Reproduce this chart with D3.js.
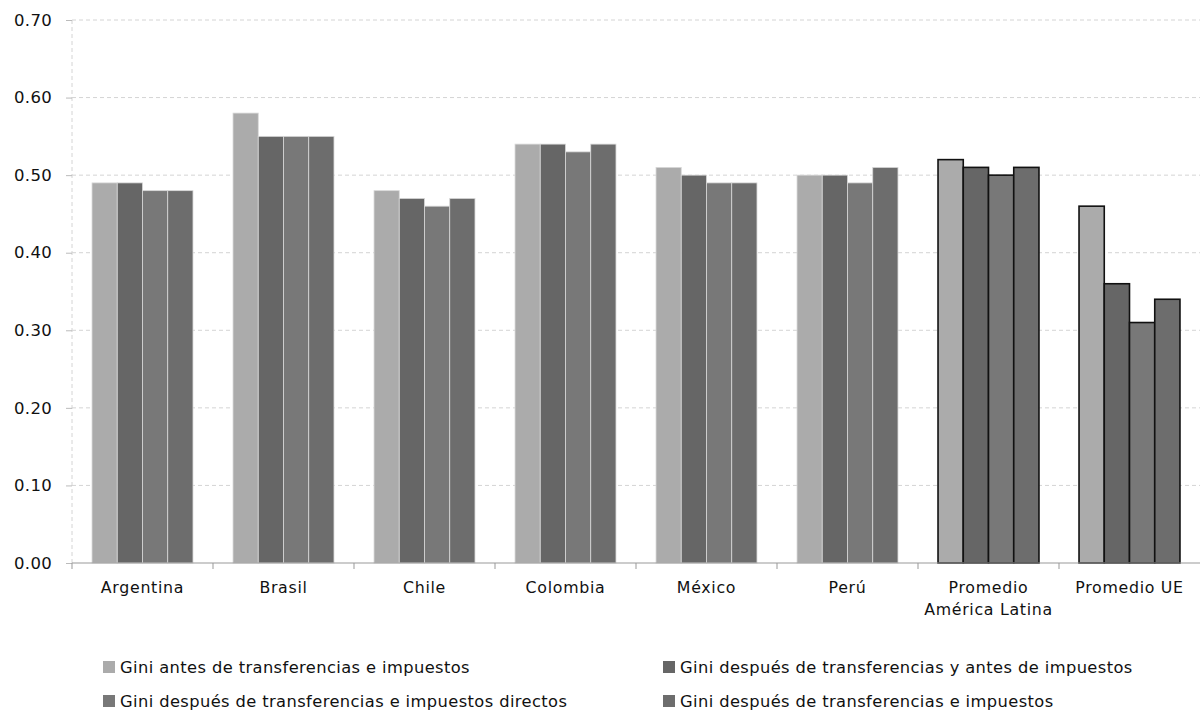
<!DOCTYPE html>
<html><head><meta charset="utf-8">
<script src="https://cdn.jsdelivr.net/npm/d3@7"></script>
<style>body{margin:0;background:#fff}svg{display:block}text{font-family:"DejaVu Sans",sans-serif;fill:#111}</style>
</head><body><svg id="c" width="1200" height="711"></svg>
<script>
const categories = ["Argentina","Brasil","Chile","Colombia","México","Perú","Promedio\nAmérica Latina","Promedio UE"];
const seriesNames = ["Gini antes de transferencias e impuestos","Gini después de transferencias y antes de impuestos","Gini después de transferencias e impuestos directos","Gini después de transferencias e impuestos"];
const s1 = [0.49,0.58,0.48,0.54,0.51,0.50,0.52,0.46];
const s2 = [0.49,0.55,0.47,0.54,0.50,0.50,0.51,0.36];
const s3 = [0.48,0.55,0.46,0.53,0.49,0.49,0.50,0.31];
const s4 = [0.48,0.55,0.47,0.54,0.49,0.51,0.51,0.34];
const yTicks = [0,0.1,0.2,0.3,0.4,0.5,0.6,0.7];
const colors = ["#ababab","#666666","#787878","#6d6d6d"];
const series = [s1,s2,s3,s4];
const highlighted = ["Promedio\nAmérica Latina","Promedio UE"];

const svg = d3.select("#c");
const L=72,R=1200,T=20,B=563;
const x = d3.scaleBand().domain(categories).range([L,R]).paddingInner(0.284).paddingOuter(0.142);
const xs = d3.scaleBand().domain(d3.range(4)).range([0,x.bandwidth()]);
const y = d3.scaleLinear().domain([0,0.7]).range([B,T]);

// grid
svg.append("g").selectAll("line").data(yTicks.filter(d=>d>0)).join("line")
  .attr("x1",L).attr("x2",R).attr("y1",d=>y(d)).attr("y2",d=>y(d))
  .attr("stroke","#d4d4d4").attr("stroke-dasharray","4,3").attr("stroke-width",1);
svg.append("line").attr("x1",L).attr("x2",L).attr("y1",T).attr("y2",B)
  .attr("stroke","#d4d4d4").attr("stroke-dasharray","4,3");

// bars
const g = svg.append("g");
categories.forEach((c,ci)=>{
  const hl = highlighted.includes(c);
  series.forEach((s,si)=>{
    g.append("rect").attr("x",x(c)+xs(si)).attr("width",xs.bandwidth())
      .attr("y",y(s[ci])).attr("height",y(0)-y(s[ci]))
      .attr("fill",colors[si])
      .attr("stroke",hl?"#111":"#d8d8d8").attr("stroke-width",hl?1.6:0.8);
  });
});

// y axis
const ya = svg.append("g").attr("transform",`translate(${L},0)`)
  .call(d3.axisLeft(y).tickValues(yTicks).tickFormat(d3.format(".2f")).tickSize(6).tickPadding(14));
ya.select(".domain").remove();
ya.selectAll("line").attr("stroke","#bbb");
ya.selectAll("text").attr("font-size",16.5).attr("fill","#111").attr("font-family","DejaVu Sans").attr("letter-spacing","0.3");

// x axis
svg.append("line").attr("x1",L).attr("x2",R).attr("y1",B).attr("y2",B).attr("stroke","#999");
const bounds = d3.range(categories.length+1).map(i=>L+i*x.step());
svg.append("g").selectAll("line").data(bounds.slice(0,-1)).join("line")
  .attr("x1",d=>d).attr("x2",d=>d).attr("y1",B).attr("y2",B+6).attr("stroke","#999");
const xl = svg.append("g").selectAll("text").data(categories).join("text")
  .attr("x",d=>x(d)+x.bandwidth()/2).attr("y",B+30).attr("text-anchor","middle")
  .attr("font-size",15.8).attr("letter-spacing","0.7");
xl.each(function(d){
  const t=d3.select(this);
  d.split("\n").forEach((ln,i)=>t.append("tspan").attr("x",x(d)+x.bandwidth()/2).attr("dy",i?22:0).text(ln));
});

// legend
const legPos = [[103,667],[663,667],[103,701],[663,701]];
seriesNames.forEach((n,i)=>{
  const [lx,ly]=legPos[i];
  svg.append("rect").attr("x",lx).attr("y",ly-6).attr("width",12).attr("height",12).attr("fill",colors[i]);
  svg.append("text").attr("x",lx+17).attr("y",ly+6).attr("font-size",16.3).attr("letter-spacing","0.4").text(n);
});
</script></body></html>
